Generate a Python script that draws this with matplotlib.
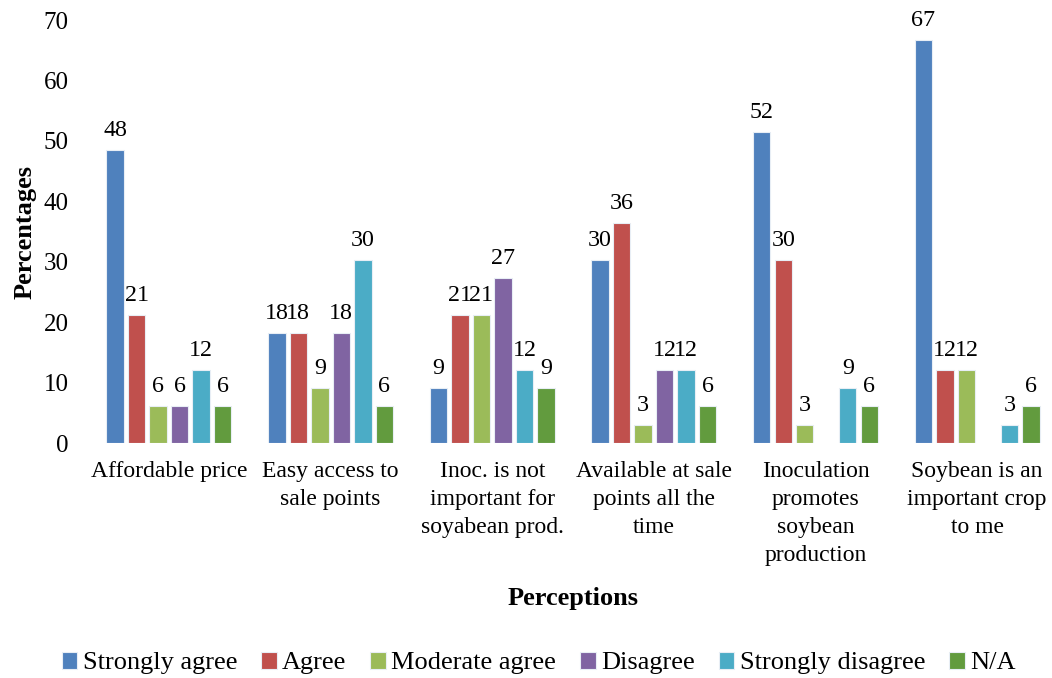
import numpy as np
import matplotlib.pyplot as plt

categories = ['Affordable price', 'Easy access to\nsale points', 'Inoc. is not\nimportant for\nsoyabean prod.',
              'Available at sale\npoints all the\ntime', 'Inoculation\npromotes\nsoybean\nproduction',
              'Soybean is an\nimportant crop\nto me']
series = ['Strongly agree', 'Agree', 'Moderate agree', 'Disagree', 'Strongly disagree', 'N/A']

strongly_agree = [48.48, 18.18, 9.09, 30.30, 51.52, 66.67]
agree = [21.21, 18.18, 21.21, 36.36, 30.30, 12.12]
moderate_agree = [6.06, 9.09, 21.21, 3.03, 3.03, 12.12]
disagree = [6.06, 18.18, 27.27, 12.12, np.nan, np.nan]
strongly_disagree = [12.12, 30.30, 12.12, 12.12, 9.09, 3.03]
na = [6.06, 6.06, 9.09, 6.06, 6.06, 6.06]

colors = ['#4F81BD', '#C0504D', '#9BBB59', '#8064A2', '#4BACC6', '#629B3E']

plt.rcParams['font.family'] = 'Liberation Serif'
plt.rcParams['font.size'] = 17

fig = plt.figure(figsize=(10.52, 6.78), dpi=100)
ax = fig.add_axes([0.0837, 0.3466, 0.922, 0.6239])

x = np.arange(len(categories))
pitch = 0.133
width = 0.108
all_vals = [strongly_agree, agree, moderate_agree, disagree, strongly_disagree, na]
for i, (name, vals, c) in enumerate(zip(series, all_vals, colors)):
    pos = x + (i - 2.5) * pitch
    ax.bar(pos, vals, width, color=c, edgecolor='#e8eef5', linewidth=0.8, label=name)
    for p, v in zip(pos, vals):
        if not np.isnan(v):
            ax.text(p, v + 1.5, '%.0f' % v, ha='center', va='bottom', fontsize=17.3)

ax.set_xlim(-0.5, len(categories) - 0.5)
ax.set_ylim(0, 70)
ax.set_yticks(range(0, 71, 10))
ax.set_xticks(x)
ax.set_xticklabels(categories, linespacing=1.43)
ax.tick_params(length=0)
ax.tick_params(axis='y', pad=14, labelsize=18)
ax.tick_params(axis='x', pad=13)
for s in ax.spines.values():
    s.set_visible(False)

ax.set_ylabel('Percentages', fontweight='bold', fontsize=19, labelpad=5)
ax.set_xlabel('Perceptions', fontweight='bold', fontsize=19, labelpad=15)

fig.legend(loc='center', bbox_to_anchor=(0.512, 0.022), ncol=6, frameon=False,
           handlelength=0.6, handleheight=0.6, handletextpad=0.2, columnspacing=0.9, fontsize=19)

fig.savefig('out.png', dpi=100)
